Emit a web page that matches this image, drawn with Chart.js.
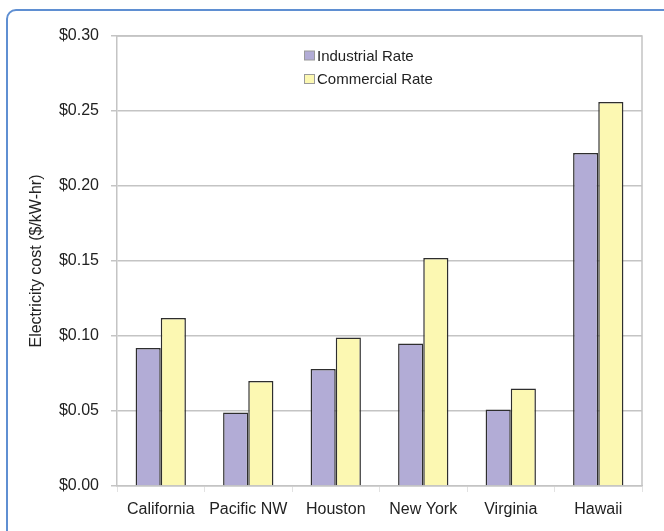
<!DOCTYPE html>
<html>
<head>
  <meta charset="utf-8">
  <title>Electricity cost</title>
  <script src="https://cdn.jsdelivr.net/npm/chart.js"></script>
  <style>
    html, body {
      margin: 0;
      padding: 0;
      width: 664px;
      height: 531px;
      overflow: hidden;
      background: #ffffff;
      font-family: 'Liberation Sans', Arial, sans-serif;
    }
    .frame {
      position: absolute;
      left: 6px;
      top: 9px;
      width: 720px;
      height: 600px;
      border: 2px solid #5f8fd2;
      border-radius: 10px;
    }
    .wrap {
      position: absolute;
      left: 0;
      top: 0;
      width: 664px;
      height: 531px;
    }
  </style>
</head>
<body>

<div class="frame"></div>
<div class="wrap">
  <canvas id="costChart" width="664" height="531"></canvas>
</div>

<script>
const categories = ['California', 'Pacific NW', 'Houston', 'New York', 'Virginia', 'Hawaii'];
const industrialRate = [0.092, 0.049, 0.078, 0.095, 0.051, 0.222];
const commercialRate = [0.112, 0.070, 0.099, 0.152, 0.065, 0.256];
const yTicks = [0, 0.05, 0.10, 0.15, 0.20, 0.25, 0.30];

const textColor = '#222222';
const lineColor = '#c4c4c4';

// legend sits inside the plot, near the top middle
const insideLegend = {
  id: 'insideLegend',
  afterDraw(chart) {
    const ctx = chart.ctx;
    ctx.save();
    ctx.font = '15px "Liberation Sans", Arial, sans-serif';
    ctx.textBaseline = 'middle';
    ctx.textAlign = 'left';
    chart.data.datasets.forEach((ds, i) => {
      const y = 55.5 + i * 23.5;
      ctx.fillStyle = ds.backgroundColor;
      ctx.fillRect(304.5, y - 4.5, 10, 9);
      ctx.strokeStyle = '#9a9a9a';
      ctx.lineWidth = 1;
      ctx.strokeRect(304.5, y - 4.5, 10, 9);
      ctx.fillStyle = textColor;
      ctx.fillText(ds.label, 317, y + 1);
    });
    ctx.restore();
  }
};

// gray frame round the plot area
const plotBorder = {
  id: 'plotBorder',
  afterDatasetsDraw(chart) {
    const a = chart.chartArea;
    const ctx = chart.ctx;
    ctx.save();
    ctx.strokeStyle = lineColor;
    ctx.lineWidth = 1.5;
    ctx.beginPath();
    ctx.moveTo(a.left, a.top);
    ctx.lineTo(a.right, a.top);
    ctx.lineTo(a.right, a.bottom);
    ctx.stroke();
    ctx.restore();
  }
};

const ctx = document.getElementById('costChart').getContext('2d');
new Chart(ctx, {
  type: 'bar',
  data: {
    labels: categories,
    datasets: [
      {
        label: 'Industrial Rate',
        data: industrialRate,
        backgroundColor: '#b2acd6',
        borderColor: '#2e2e2e',
        borderWidth: 1.5
      },
      {
        label: 'Commercial Rate',
        data: commercialRate,
        backgroundColor: '#fcf8b2',
        borderColor: '#2e2e2e',
        borderWidth: 1.5
      }
    ]
  },
  options: {
    responsive: false,
    animation: false,
    layout: {
      padding: { left: 20, top: 36, right: 22, bottom: 0 }
    },
    categoryPercentage: 0.575,
    barPercentage: 1.0,
    plugins: {
      legend: { display: false },
      tooltip: { enabled: false }
    },
    scales: {
      x: {
        afterFit: s => { s.height = 45; },
        grid: {
          offset: true,
          drawOnChartArea: false,
          color: '#e2e2e2',
          tickLength: 6
        },
        border: { color: lineColor, width: 1.5 },
        ticks: {
          color: textColor,
          padding: 8,
          font: { family: '"Liberation Sans", Arial, sans-serif', size: 16 }
        }
      },
      y: {
        min: 0,
        max: 0.30,
        afterFit: s => { s.width = 97; },
        afterBuildTicks: s => { s.ticks = yTicks.map(v => ({ value: v })); },
        grid: {
          color: lineColor,
          lineWidth: 1.5,
          tickLength: 6
        },
        border: { color: lineColor, width: 1.5 },
        ticks: {
          color: textColor,
          padding: 12,
          font: { family: '"Liberation Sans", Arial, sans-serif', size: 16 },
          callback: v => '$' + Number(v).toFixed(2)
        },
        title: {
          display: true,
          text: 'Electricity cost ($/kW-hr)',
          color: textColor,
          padding: { top: 7, bottom: 0 },
          font: { family: '"Liberation Sans", Arial, sans-serif', size: 16 }
        }
      }
    }
  },
  plugins: [insideLegend, plotBorder]
});
</script>

</body>
</html>
